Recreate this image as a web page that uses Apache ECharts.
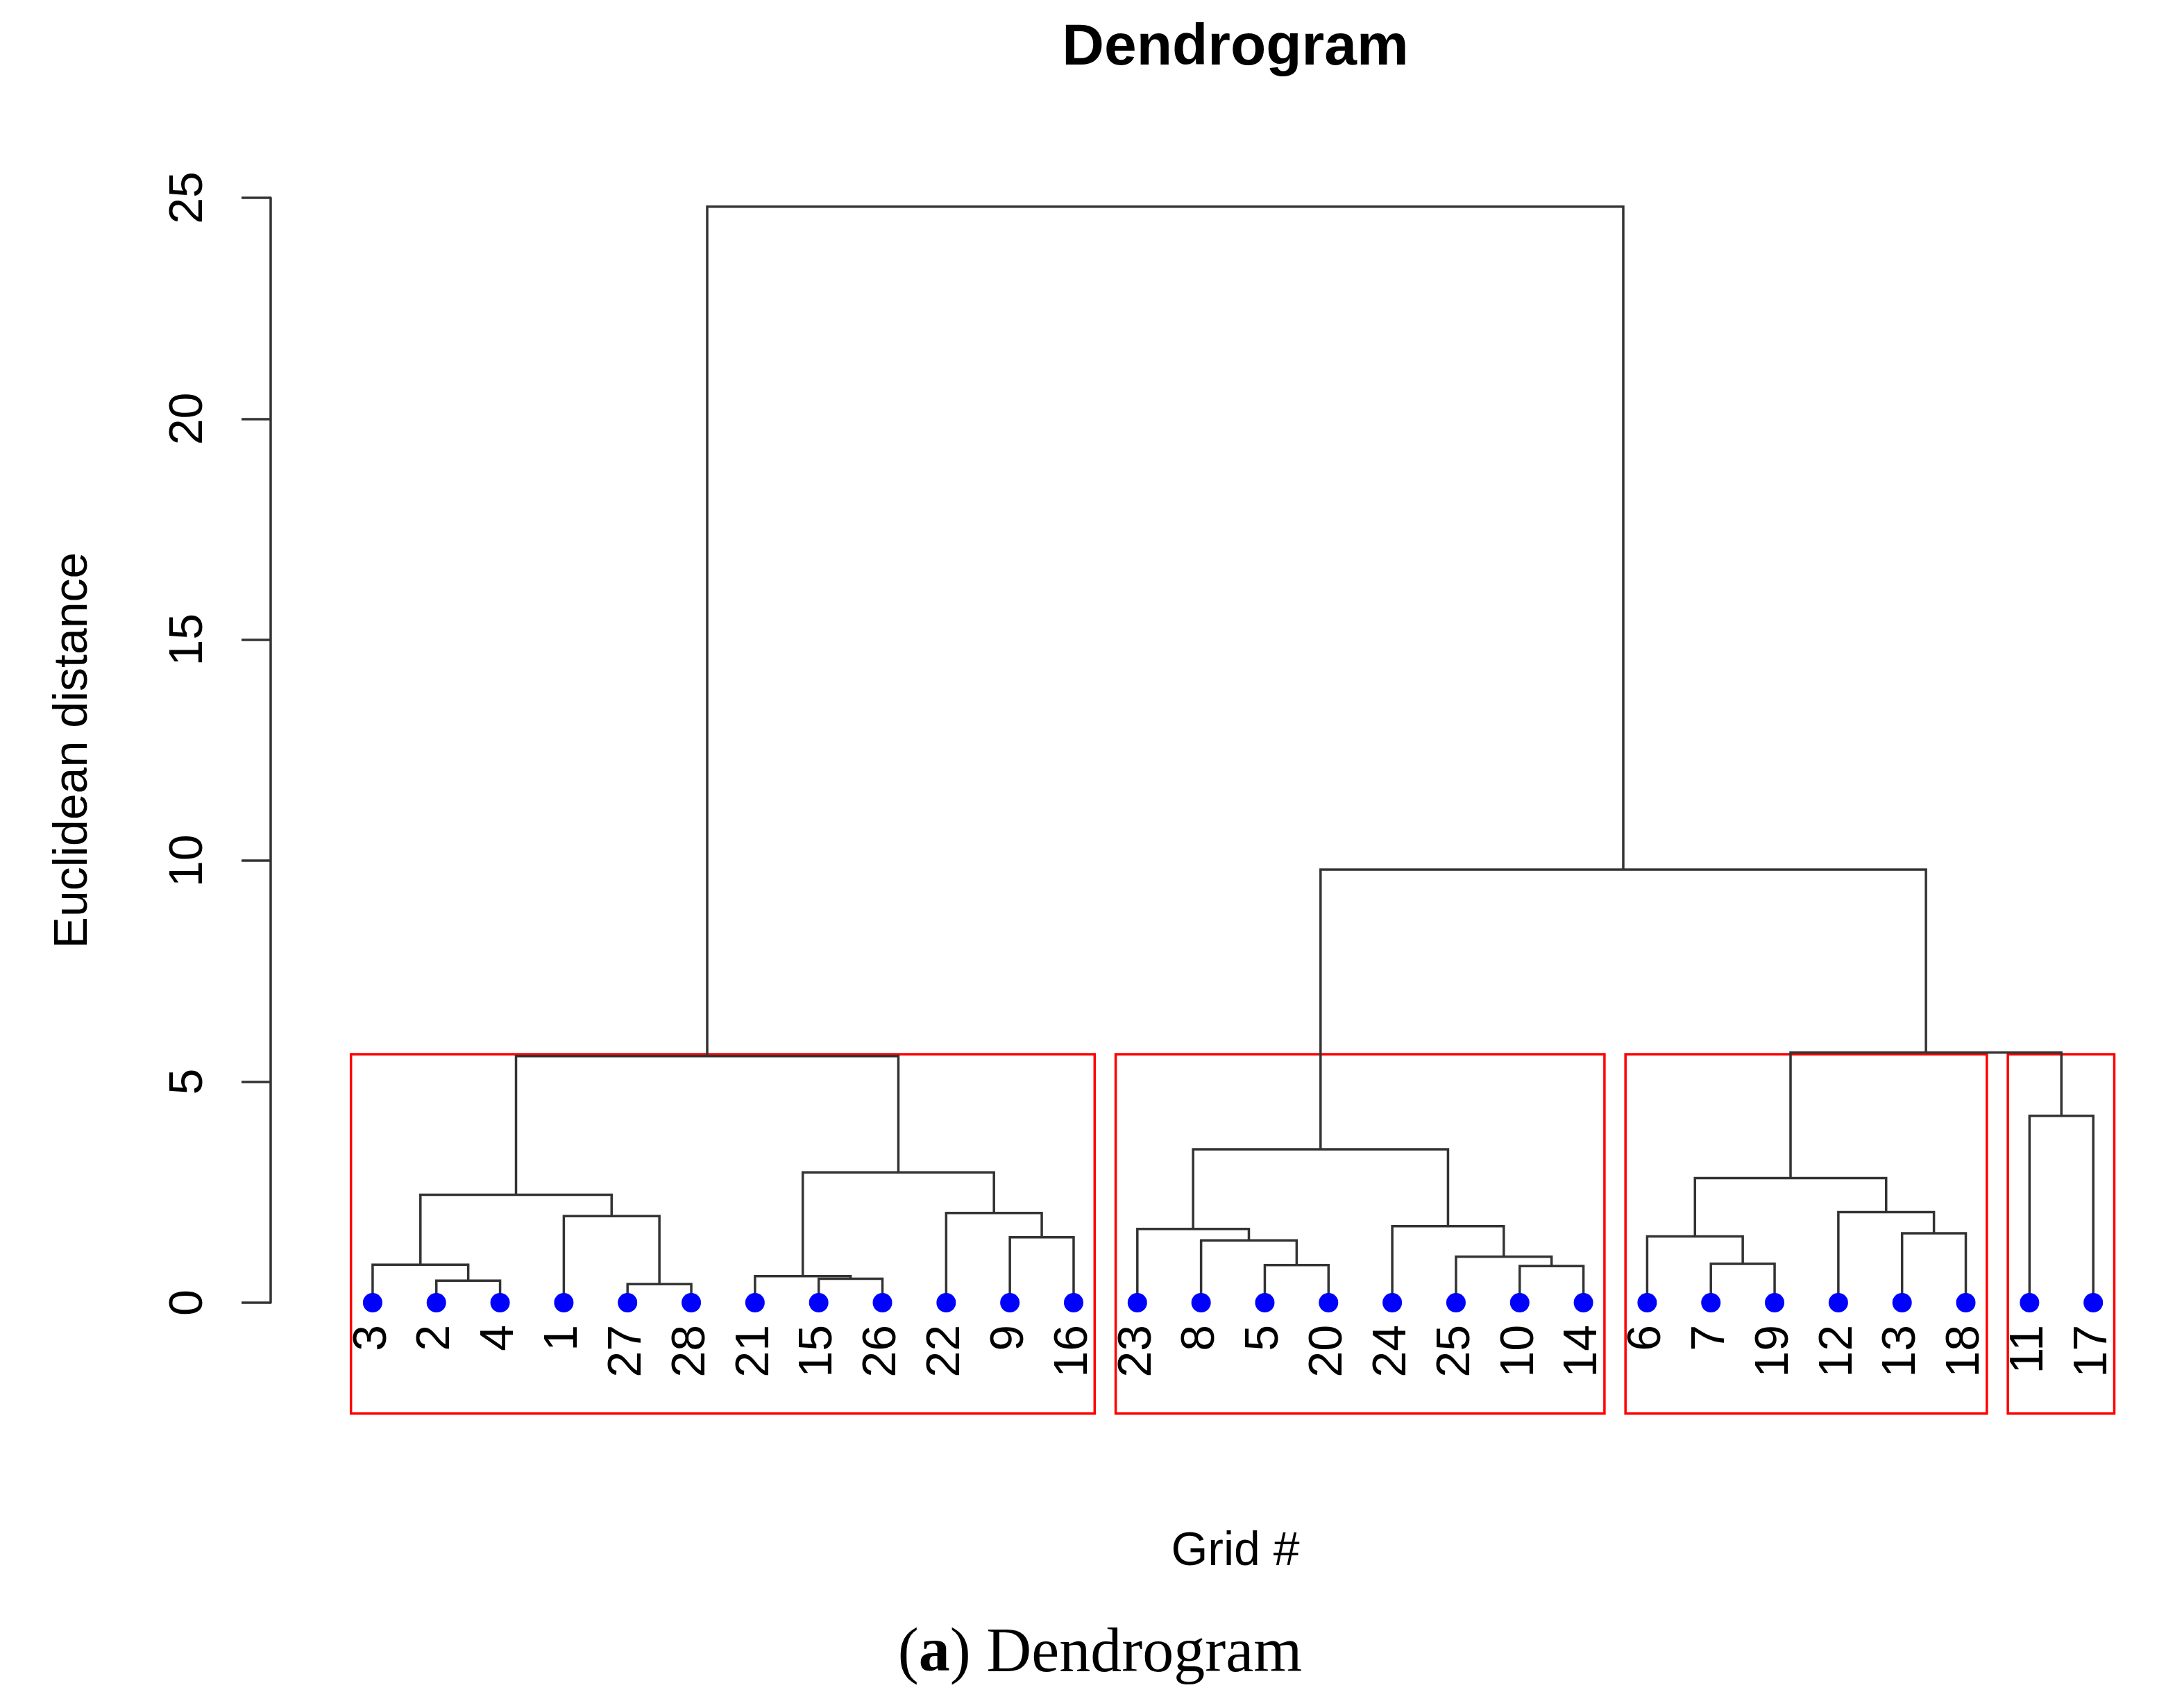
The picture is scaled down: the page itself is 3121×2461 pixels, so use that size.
<!DOCTYPE html>
<html>
<head>
    <meta charset="utf-8">
    <title>Dendrogram</title>
    <script src="https://cdn.jsdelivr.net/npm/echarts@6/dist/echarts.min.js"></script>
    <style>
        html, body { margin: 0; padding: 0; background: #fff; }
        #main { width: 3121px; height: 2461px; }
    </style>
</head>
<body>
<div id="main"></div>
<script type="text/javascript">
    // leaf order along the bottom (grid numbers)
    var leafOrder = [3, 2, 4, 1, 27, 28, 21, 15, 26, 22, 9, 16, 23, 8, 5, 20, 24, 25, 10, 14, 6, 7, 19, 12, 13, 18, 11, 17];

    // merges, hclust style: negative = grid number, positive = earlier merge (1-based)
    var mergeA = [-27, -2, -15, -21, -10, -5, -3, -7, -25, -8, -9, -6, -13, -23, -24, -1, -22, -12, 7, 12, 4, 14, -11, 19, 20, 22, 24];
    var mergeB = [-28, -4, -26, 3, -14, -20, 2, -19, 5, 6, -16, 8, -18, 10, 9, 1, 11, 13, 16, 18, 17, 15, -17, 21, 23, 25, 26];
    var mergeHeight = [0.42, 0.50, 0.54, 0.60, 0.83, 0.85, 0.86, 0.88, 1.04, 1.41, 1.48, 1.50, 1.57, 1.67, 1.73,
        1.96, 2.03, 2.05, 2.44, 2.82, 2.95, 3.47, 4.23, 5.58, 5.66, 9.80, 24.80];

    // the four clusters boxed in red (number of leaves in each, left to right)
    var clusterSizes = [12, 8, 6, 2];
    var cutHeight = 5.62;

    var yTicks = [0, 5, 10, 15, 20, 25];

    // ---- build tree layout ----
    var nodeX = [], nodeH = [];
    function child(ref) {
        if (ref < 0) return {x: leafOrder.indexOf(-ref) + 1, h: 0};
        return {x: nodeX[ref - 1], h: nodeH[ref - 1]};
    }
    var links = [];
    for (var k = 0; k < mergeA.length; k++) {
        var a = child(mergeA[k]), b = child(mergeB[k]);
        if (a.x > b.x) { var t = a; a = b; b = t; }
        nodeX.push((a.x + b.x) / 2);
        nodeH.push(mergeHeight[k]);
        links.push([a.x, a.h, b.x, b.h, mergeHeight[k]]);
    }

    var rectBottom = -2.51; // bottom of the plot region, below the labels
    var boxes = [];
    var start = 1;
    clusterSizes.forEach(function (n) {
        boxes.push([start - 0.34, start + n - 1 + 0.33, cutHeight, rectBottom]);
        start += n;
    });

    var leafPoints = leafOrder.map(function (g, i) { return [i + 1, 0]; });

    var font = 'Liberation Sans, Arial, Helvetica, sans-serif';

    var myChart = echarts.init(document.getElementById('main'));
    var option = {
        backgroundColor: '#ffffff',
        animation: false,
        grid: {left: 390, top: 285, width: 2718, height: 1592},
        xAxis: {
            type: 'value',
            min: -0.6,
            max: 29,
            show: false
        },
        yAxis: {
            type: 'value',
            min: yTicks[0],
            max: yTicks[yTicks.length - 1],
            interval: 5,
            name: 'Euclidean distance',
            nameLocation: 'middle',
            nameGap: 250,
            nameTextStyle: {fontSize: 68, fontFamily: font, color: '#000'},
            axisLine: {show: true, onZero: false, lineStyle: {color: '#333', width: 3.5}},
            axisTick: {show: true, length: 42, lineStyle: {color: '#333', width: 3.5}},
            axisLabel: {rotate: 90, margin: 84, fontSize: 68, fontFamily: font, color: '#000'},
            splitLine: {show: false}
        },
        graphic: [
            {
                type: 'text', x: 1780, y: 70,
                style: {text: 'Dendrogram', fontSize: 84, fontWeight: 'bold', fontFamily: font,
                    fill: '#000', align: 'center', verticalAlign: 'middle'}
            },
            {
                type: 'text', x: 1780, y: 2236,
                style: {text: 'Grid #', fontSize: 68, fontFamily: font,
                    fill: '#000', align: 'center', verticalAlign: 'middle'}
            },
            {
                type: 'text', x: 1585, y: 2384,
                style: {
                    text: '({b|a}) Dendrogram',
                    fontSize: 90, fontFamily: 'Liberation Serif, Times New Roman, serif',
                    fill: '#000', align: 'center', verticalAlign: 'middle',
                    rich: {b: {fontSize: 90, fontWeight: 'bold', fontFamily: 'Liberation Serif, Times New Roman, serif'}}
                }
            }
        ],
        series: [
            {
                type: 'custom',
                name: 'clusters',
                clip: false,
                data: boxes,
                renderItem: function (params, api) {
                    var p0 = api.coord([api.value(0), api.value(2)]);
                    var p1 = api.coord([api.value(1), api.value(3)]);
                    return {
                        type: 'rect',
                        shape: {x: p0[0], y: p0[1], width: p1[0] - p0[0], height: p1[1] - p0[1]},
                        style: {fill: null, stroke: '#ff0000', lineWidth: 3.5}
                    };
                }
            },
            {
                type: 'custom',
                name: 'links',
                clip: false,
                data: links,
                renderItem: function (params, api) {
                    var p1 = api.coord([api.value(0), api.value(1)]);
                    var p2 = api.coord([api.value(0), api.value(4)]);
                    var p3 = api.coord([api.value(2), api.value(4)]);
                    var p4 = api.coord([api.value(2), api.value(3)]);
                    return {
                        type: 'polyline',
                        shape: {points: [p1, p2, p3, p4]},
                        style: {fill: null, stroke: '#333', lineWidth: 3.5}
                    };
                }
            },
            {
                type: 'scatter',
                name: 'leaves',
                clip: false,
                symbol: 'circle',
                symbolSize: 28,
                itemStyle: {color: '#0000ff', opacity: 1},
                data: leafPoints,
                z: 5
            },
            {
                type: 'custom',
                name: 'leaf labels',
                clip: false,
                data: leafPoints,
                z: 6,
                renderItem: function (params, api) {
                    var p = api.coord([api.value(0), api.value(1)]);
                    return {
                        type: 'text',
                        x: p[0],
                        y: p[1] + 32,
                        rotation: Math.PI / 2,
                        style: {
                            text: String(leafOrder[params.dataIndex]),
                            fontSize: 68, fontFamily: font, fill: '#000',
                            align: 'right', verticalAlign: 'middle'
                        }
                    };
                }
            }
        ]
    };
    myChart.setOption(option);
</script>
</body>
</html>
